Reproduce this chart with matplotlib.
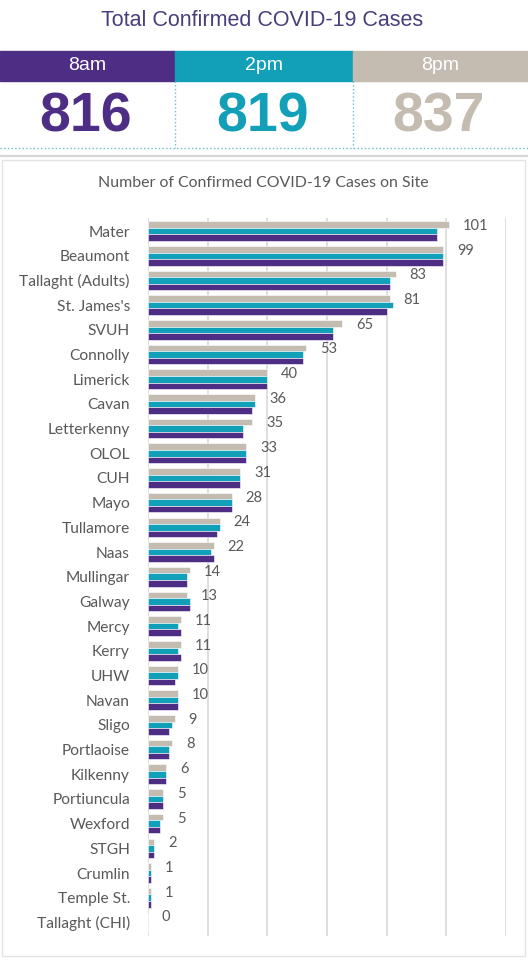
import numpy as np
import matplotlib
matplotlib.use('Agg')
import matplotlib.pyplot as plt
from matplotlib.patches import Rectangle
from matplotlib.lines import Line2D

# Datos
hospitales = ['Mater', 'Beaumont', 'Tallaght (Adults)', "St. James's", 'SVUH',
              'Connolly', 'Limerick', 'Cavan', 'Letterkenny', 'OLOL', 'CUH', 'Mayo',
              'Tullamore', 'Naas', 'Mullingar', 'Galway', 'Mercy', 'Kerry', 'UHW',
              'Navan', 'Sligo', 'Portlaoise', 'Kilkenny', 'Portiuncula', 'Wexford',
              'STGH', 'Crumlin', 'Temple St.', 'Tallaght (CHI)']
casos_8am = [97, 99, 81, 80, 62, 52, 40, 35, 32, 33, 31, 28, 23, 22, 13, 14,
             11, 11, 9, 10, 7, 7, 6, 5, 4, 2, 1, 1, 0]
casos_2pm = [97, 99, 81, 82, 62, 52, 40, 36, 32, 33, 31, 28, 24, 21, 13, 14,
             10, 10, 10, 10, 8, 7, 6, 5, 4, 2, 1, 1, 0]
casos_8pm = [101, 99, 83, 81, 65, 53, 40, 36, 35, 33, 31, 28, 24, 22, 14, 13,
             11, 11, 10, 10, 9, 8, 6, 5, 5, 2, 1, 1, 0]
horas = ['8am', '2pm', '8pm']
totales = [816, 819, 837]

morado = '#4e2d84'
turquesa = '#12a0b8'
beige = '#c4bcb0'
gris = '#595959'
colores = [morado, turquesa, beige]

W, H = 528, 960
fig = plt.figure(figsize=(W / 100, H / 100), dpi=100)
fig.patch.set_facecolor('white')

def fx(x):
    return x / W

def fy(y):
    return 1 - y / H

# Cabecera
fig.text(fx(262), fy(21), 'Total Confirmed COVID-19 Cases', ha='center', va='center',
         fontsize=15.5, color='#4a3f7a', family='Liberation Sans')

limites = [(0, 175), (175, 353), (353, 528)]
for (x0, x1), c, h, t in zip(limites, colores, horas, totales):
    fig.patches.append(Rectangle((fx(x0), fy(81)), fx(x1 - x0), 30 / H,
                                 transform=fig.transFigure, color=c, zorder=1))
    fig.text(fx((x0 + x1) / 2), fy(66), h, ha='center', va='center', fontsize=14,
             color='white', family='Liberation Sans')
    fig.text(fx((x0 + x1) / 2 - 2), fy(117), str(t), ha='center', va='center',
             fontsize=40, fontweight='bold', color=c, family='Liberation Sans')

for x in [175, 353]:
    fig.lines.append(Line2D([fx(x), fx(x)], [fy(81), fy(148)], transform=fig.transFigure,
                            color='#6dbccb', lw=1, ls=':'))
fig.lines.append(Line2D([0, 1], [fy(148), fy(148)], transform=fig.transFigure,
                        color='#6dbccb', lw=1, ls=':'))
fig.lines.append(Line2D([0, 1], [fy(156), fy(156)], transform=fig.transFigure,
                        color='#d6d6d6', lw=1.6))

# Panel del gráfico
fig.patches.append(Rectangle((fx(2), fy(956)), fx(523), (956 - 160) / H,
                             transform=fig.transFigure, facecolor='white',
                             edgecolor='#e3e3e3', lw=1, zorder=0))

fig.text(fx(263), fy(183), 'Number of Confirmed COVID-19 Cases on Site', ha='center',
         va='center', fontsize=11.4, color=gris, family='Lato')

# Gráfico de barras
ax = fig.add_axes([fx(148), fy(936), fx(506 - 148), (936 - 218) / H])
ax.set_zorder(2)
ax.set_facecolor('none')

y = np.arange(len(hospitales))
paso = 0.265
ax.barh(y - paso, casos_8pm, height=paso, color=beige, edgecolor='white', lw=0.4, zorder=3)
ax.barh(y, casos_2pm, height=paso, color=turquesa, edgecolor='white', lw=0.4, zorder=3)
ax.barh(y + paso, casos_8am, height=paso, color=morado, edgecolor='white', lw=0.4, zorder=3)

for i, v in enumerate(casos_8pm):
    ax.annotate(str(v), (v, i - paso), xytext=(10, -1), textcoords='offset points',
                ha='left', va='center', fontsize=10.5, color=gris, family='Lato')

ax.set_xlim(0, 120)
ax.set_xticks(np.arange(0, 121, 20))
ax.set_ylim(len(hospitales) - 0.45, -0.53)
ax.set_yticks(y)
ax.set_yticklabels(hospitales, fontsize=11.2, color=gris, family='Lato')
ax.tick_params(axis='y', length=0, pad=13)
ax.tick_params(axis='x', length=0, labelbottom=False)
ax.grid(axis='x', color='#d9d9d9', lw=1.2, zorder=0)
for s in ax.spines.values():
    s.set_visible(False)

fig.savefig('out.png', dpi=100)
